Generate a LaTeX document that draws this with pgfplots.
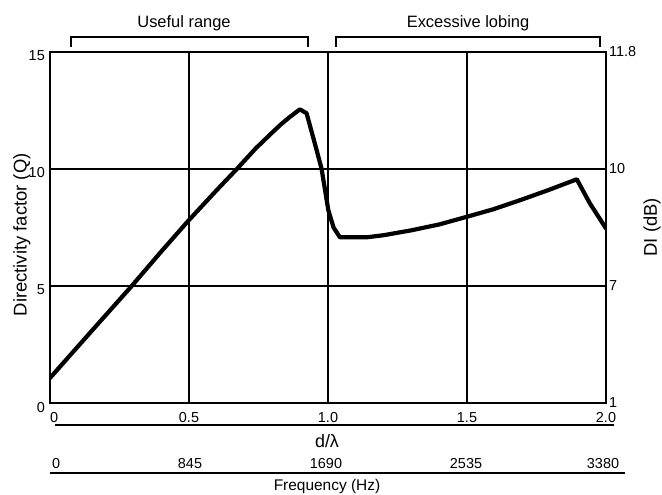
\documentclass[border=0pt]{standalone}
\usepackage{fontspec}
\setmainfont{Liberation Sans}
\usepackage{pgfplots}
\pgfplotsset{compat=1.18}

\begin{document}
\begin{tikzpicture}[font=\fontsize{14.5}{17}\selectfont]
\pgfplotsset{
    frame/.style={
        at={(0,0)}, anchor=south west,
        scale only axis,
        width=556bp, height=351bp,
        xmin=0, xmax=2, ymin=0, ymax=15,
        major tick length=0pt,
        axis line style={line width=2.2bp},
        tick label style={font=\fontsize{14.5}{17}\selectfont, inner sep=0pt},
        /pgf/number format/assume math mode=true,
    },
}
\begin{axis}[
    frame,
    xtick={0,0.5,1,1.5,2},
    xticklabels={\makebox[0pt][l]{0},0.5,1.0,1.5,2.0},
    ytick={0,5,10,15},
    xticklabel style={anchor=base, yshift=-19bp},
    yticklabel style={anchor=base east, xshift=-5bp, yshift=-9bp},
    grid=major,
    grid style={draw=black, line width=1.6bp},
    ylabel={Directivity factor (Q)},
    every axis y label/.style={at={(axis description cs:-0.0504,0.479)},
        rotate=90, anchor=center, font=\fontsize{18.5}{22}\selectfont},
]
\addplot[black, line width=4.2bp, line join=round, line cap=round] coordinates {
    (0,1.07) (0.144,3.0) (0.294,5.0) (0.4,6.47) (0.5,7.82) (0.6,9.1)
    (0.672,10.0) (0.74,10.88) (0.803,11.6) (0.83,11.9) (0.86,12.2)
    (0.899,12.55) (0.923,12.38) (0.959,10.81) (0.977,10.0) (1.001,8.25)
    (1.02,7.5) (1.043,7.08) (1.139,7.08) (1.2,7.17) (1.3,7.38) (1.4,7.63)
    (1.5,7.96) (1.595,8.28) (1.694,8.68) (1.793,9.10) (1.895,9.56)
    (1.942,8.53) (2.0,7.46)
};
\end{axis}
\begin{axis}[
    frame,
    axis x line=none,
    axis y line*=right,
    axis line style={-},
    ytick={0,5,10,15},
    yticklabels={1,7,10,11.8},
    yticklabel style={anchor=west, xshift=3bp},
    ylabel={DI (dB)},
    every axis y label/.style={at={(axis description cs:1.0827,0.501)},
        rotate=90, anchor=center, font=\fontsize{18.5}{22}\selectfont},
]
\end{axis}
% range brackets above the plot
\draw[line width=1.8bp] (21bp,356bp) -- (21bp,366bp) -- (258bp,366bp) -- (258bp,356bp);
\draw[line width=1.8bp] (286bp,356bp) -- (286bp,366bp) -- (550bp,366bp) -- (550bp,356bp);
\node[anchor=base, font=\fontsize{16.5}{19}\selectfont] at (134bp,375.5bp) {Useful range};
\node[anchor=base, font=\fontsize{16.5}{19}\selectfont] at (418bp,375.5bp) {Excessive lobing};
% second scales below the plot
\draw[line width=2bp] (5bp,-22bp) -- (564bp,-22bp);
\node[anchor=base, font=\fontsize{18}{20}\selectfont] at (277bp,-44bp) {d/λ};
\node[anchor=base west, inner sep=0pt] at (2bp,-65bp) {0};
\foreach \px/\lab in {140/845,276/1690,416/2535,553/3380}
    \node[anchor=base, inner sep=0pt] at (\px bp,-65bp) {\lab};
\draw[line width=2bp] (0bp,-70bp) -- (575bp,-70bp);
\node[anchor=base, font=\fontsize{15.5}{18}\selectfont] at (277bp,-87bp) {Frequency (Hz)};
\pgfresetboundingbox
\path[use as bounding box] (-50bp,-92bp) rectangle (612bp,403bp);
\end{tikzpicture}
\end{document}
